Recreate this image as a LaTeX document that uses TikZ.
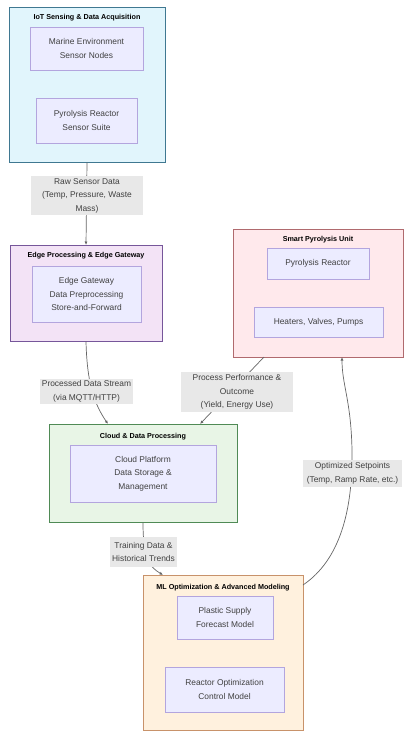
\documentclass[tikz,border=0pt]{standalone}
\usepackage{fontspec}
\setmainfont{Liberation Sans}
\usepackage{xcolor}
\usetikzlibrary{arrows.meta}

\definecolor{iotfill}{HTML}{E1F5FC}
\definecolor{iotline}{HTML}{3F7891}
\definecolor{edgefill}{HTML}{F3E3F6}
\definecolor{edgeline}{HTML}{76569A}
\definecolor{smartfill}{HTML}{FFE9EC}
\definecolor{smartline}{HTML}{B06A6E}
\definecolor{cloudfill}{HTML}{E8F5E6}
\definecolor{cloudline}{HTML}{4F8A55}
\definecolor{mlfill}{HTML}{FFF1DE}
\definecolor{mlline}{HTML}{C8926A}
\definecolor{innerfill}{HTML}{ECECFF}
\definecolor{innerline}{HTML}{B3A5DE}
\definecolor{lblfill}{HTML}{E8E8E8}
\definecolor{wire}{HTML}{666666}

\tikzset{
    group/.style={draw, line width=1pt, minimum width=#1},
    grouptitle/.style={font=\fontsize{7.2}{9}\selectfont\bfseries, inner sep=0pt},
    inner/.style={draw=innerline, fill=innerfill, line width=0.6pt, align=center,
        font=\fontsize{8.4}{13.5}\selectfont, text=black!75, inner sep=0pt},
    lbl/.style={fill=lblfill, align=center, font=\fontsize{8.4}{13.5}\selectfont,
        text=black!75, inner sep=2pt},
    wire/.style={draw=wire, line width=0.7pt, -{Latex[length=3.5pt,width=3pt]}}
}

\begin{document}
\begin{tikzpicture}[x=1pt, y=-1pt]

    \useasboundingbox[fill=white] (0,0) rectangle (409,736);

    % IoT sensing
    \node[group=156pt, minimum height=155pt, draw=iotline, fill=iotfill] (iot) at (87,84.5) {};
    \node[grouptitle] at (87,18) {IoT Sensing \& Data Acquisition};
    \node[inner, minimum width=113pt, minimum height=43pt] (marine) at (86.5,48.5) {Marine Environment\\Sensor Nodes};
    \node[inner, minimum width=101pt, minimum height=45pt] (sensuite) at (86.5,120.5) {Pyrolysis Reactor\\Sensor Suite};

    % Edge gateway
    \node[group=152pt, minimum height=96pt, draw=edgeline, fill=edgefill] (edge) at (86,293) {};
    \node[grouptitle] at (86,256) {Edge Processing \& Edge Gateway};
    \node[inner, minimum width=109pt, minimum height=56pt] (gateway) at (86.5,294) {Edge Gateway\\Data Preprocessing\\Store-and-Forward};

    % Smart pyrolysis unit
    \node[group=170pt, minimum height=128pt, draw=smartline, fill=smartfill] (smart) at (318,293) {};
    \node[grouptitle] at (318,240) {Smart Pyrolysis Unit};
    \node[inner, minimum width=102pt, minimum height=31pt] (reactor) at (318,263.5) {Pyrolysis Reactor};
    \node[inner, minimum width=129pt, minimum height=30pt] (heaters) at (318.5,322) {Heaters, Valves, Pumps};

    % Cloud
    \node[group=188pt, minimum height=98pt, draw=cloudline, fill=cloudfill] (cloud) at (143,473) {};
    \node[grouptitle] at (143,437) {Cloud \& Data Processing};
    \node[inner, minimum width=146pt, minimum height=57pt] (platform) at (143,473.5) {Cloud Platform\\Data Storage \&\\Management};

    % ML
    \node[group=160pt, minimum height=155pt, draw=mlline, fill=mlfill] (ml) at (223,652.5) {};
    \node[grouptitle] at (223,588) {ML Optimization \& Advanced Modeling};
    \node[inner, minimum width=96pt, minimum height=43pt] (forecast) at (225,617.5) {Plastic Supply\\Forecast Model};
    \node[inner, minimum width=119pt, minimum height=45pt] (optctrl) at (224.5,689.5) {Reactor Optimization\\Control Model};

    % connector ends
    \coordinate (edgein) at (86,245);
    \coordinate (cloudinA) at (108,424);
    \coordinate (smartout) at (264,357);
    \coordinate (cloudinB) at (200,424);
    \coordinate (mlin) at (163,575);
    \coordinate (mlout) at (303,585);
    \coordinate (smartin) at (342,357);

    % connectors
    \draw[wire] (iot.south) -- (edgein);
    \draw[wire] (edge.south) .. controls (87,385) and (95,405) .. (cloudinA);
    \draw[wire] (smartout) -- (cloudinB);
    \draw[wire] (cloud.south) .. controls (143,560) and (150,567) .. (mlin);
    \draw[wire] (mlout) .. controls (340,560) and (353,510) .. (352,450)
        .. controls (351,400) and (342,385) .. (smartin);

    % edge labels
    \node[lbl, minimum width=112pt, minimum height=39pt] (rawlbl) at (87,195.5) {Raw Sensor Data\\(Temp, Pressure, Waste\\Mass)};
    \node[lbl, minimum width=93pt, minimum height=25pt] (proclbl) at (86.5,391.5) {Processed Data Stream\\(via MQTT/HTTP)};
    \node[lbl, minimum width=112pt, minimum height=40pt] (perflbl) at (237,392) {Process Performance \&\\Outcome\\(Yield, Energy Use)};
    \node[lbl, minimum width=67pt, minimum height=30pt] (trainlbl) at (143.5,552) {Training Data \&\\Historical Trends};
    \node[lbl, minimum width=99pt, minimum height=27pt] (setlbl) at (352.5,473.5) {Optimized Setpoints\\(Temp, Ramp Rate, etc.)};

\end{tikzpicture}
\end{document}
